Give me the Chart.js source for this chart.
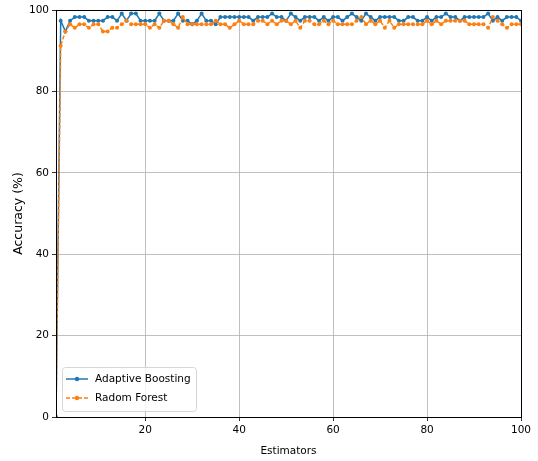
<!DOCTYPE html>
<html>
<head>
<meta charset="utf-8">
<script src="https://cdn.jsdelivr.net/npm/chart.js@4/dist/chart.umd.min.js"></script>
<style>
  html, body { margin: 0; padding: 0; background: #fff; }
  #wrap { position: relative; width: 538px; height: 461px; }
</style>
</head>
<body>
<div id="wrap"><canvas id="acc"></canvas></div>
<script>
// estimators 1..100
const estimators = Array.from({ length: 100 }, (_, i) => i + 1);

const adaBoost = [
  0, 97.37, 94.74, 97.37, 98.25, 98.25, 98.25, 97.37, 97.37, 97.37,
  97.37, 98.25, 98.25, 97.37, 99.12, 97.37, 99.12, 99.12, 97.37, 97.37,
  97.37, 97.37, 99.12, 97.37, 97.37, 97.37, 99.12, 97.37, 97.37, 96.49,
  97.37, 99.12, 97.37, 97.37, 96.49, 98.25, 98.25, 98.25, 98.25, 98.25,
  98.25, 98.25, 97.37, 98.25, 98.25, 98.25, 99.12, 98.25, 98.25, 97.37,
  99.12, 98.25, 97.37, 98.25, 98.25, 98.25, 97.37, 98.25, 97.37, 98.25,
  98.25, 97.37, 98.25, 99.12, 98.25, 97.37, 99.12, 98.25, 97.37, 98.25,
  98.25, 98.25, 98.25, 97.37, 97.37, 98.25, 98.25, 97.37, 97.37, 98.25,
  97.37, 98.25, 98.25, 99.12, 98.25, 98.25, 97.37, 98.25, 98.25, 98.25,
  98.25, 98.25, 99.12, 97.37, 98.25, 97.37, 98.25, 98.25, 98.25, 97.37
];

const randomForest = [
  0, 91.23, 94.74, 96.49, 95.61, 96.49, 96.49, 95.61, 96.49, 96.49,
  94.74, 94.74, 95.61, 95.61, 96.49, 97.37, 96.49, 96.49, 96.49, 96.49,
  95.61, 96.49, 95.61, 97.37, 97.37, 96.49, 95.61, 98.25, 96.49, 96.49,
  96.49, 96.49, 96.49, 96.49, 97.37, 96.49, 96.49, 95.61, 96.49, 97.37,
  96.49, 96.49, 96.49, 97.37, 97.37, 96.49, 97.37, 96.49, 97.37, 97.37,
  96.49, 97.37, 95.61, 97.37, 97.37, 96.49, 96.49, 97.37, 96.49, 97.37,
  96.49, 96.49, 96.49, 96.49, 97.37, 98.25, 96.49, 97.37, 96.49, 97.37,
  95.61, 97.37, 95.61, 96.49, 96.49, 96.49, 96.49, 96.49, 96.49, 97.37,
  96.49, 97.37, 96.49, 97.37, 97.37, 97.37, 97.37, 97.37, 96.49, 96.49,
  96.49, 96.49, 95.61, 98.25, 97.37, 96.49, 95.61, 96.49, 96.49, 96.49
];

const seriesNames = ["Adaptive Boosting", "Radom Forest"];
const xTicks = [20, 40, 60, 80, 100];
const yTicks = [0, 20, 40, 60, 80, 100];

const BLUE = "#1f77b4";
const ORANGE = "#ff7f0e";
const FONT = "'DejaVu Sans', sans-serif";

const toPoints = (vals) => vals.map((v, i) => ({ x: estimators[i], y: v }));

// black frame around the axes, like matplotlib spines
const spines = {
  id: "spines",
  afterDatasetsDraw(chart) {
    const { ctx, chartArea: a } = chart;
    ctx.save();
    ctx.strokeStyle = "#000";
    ctx.lineWidth = 1;
    ctx.strokeRect(Math.round(a.left) + 0.5, Math.round(a.top) + 0.5,
      Math.round(a.right - a.left), Math.round(a.bottom - a.top));
    ctx.restore();
  }
};

// legend box in the lower left corner
const cornerLegend = {
  id: "cornerLegend",
  afterDraw(chart) {
    const { ctx, chartArea: a } = chart;
    const x0 = a.left + 6, y0 = a.bottom - 50, w = 134, h = 44;
    ctx.save();
    ctx.beginPath();
    ctx.roundRect(x0 + 0.5, y0 + 0.5, w, h, 3);
    ctx.fillStyle = "rgba(255,255,255,0.8)";
    ctx.fill();
    ctx.strokeStyle = "#d6d6d6";
    ctx.lineWidth = 1;
    ctx.stroke();

    const items = [
      { label: seriesNames[0], color: BLUE, dash: [] },
      { label: seriesNames[1], color: ORANGE, dash: [4, 2] }
    ];
    items.forEach((it, i) => {
      const y = y0 + 12 + i * 19;
      ctx.strokeStyle = it.color;
      ctx.lineWidth = 1.5;
      ctx.setLineDash(it.dash);
      ctx.beginPath();
      ctx.moveTo(x0 + 4, y);
      ctx.lineTo(x0 + 26, y);
      ctx.stroke();
      ctx.setLineDash([]);
      ctx.fillStyle = it.color;
      ctx.beginPath();
      ctx.arc(x0 + 15, y, 2.2, 0, Math.PI * 2);
      ctx.fill();
      ctx.fillStyle = "#000";
      ctx.font = "10.5px " + FONT;
      ctx.textBaseline = "middle";
      ctx.fillText(it.label, x0 + 33, y);
    });
    ctx.restore();
  }
};

new Chart(document.getElementById("acc"), {
  type: "line",
  data: {
    datasets: [
      {
        label: seriesNames[0],
        data: toPoints(adaBoost),
        borderColor: BLUE,
        backgroundColor: BLUE,
        borderWidth: 1.5,
        pointRadius: 2,
        pointBorderWidth: 0,
        pointBackgroundColor: BLUE,
        tension: 0,
        order: 1
      },
      {
        label: seriesNames[1],
        data: toPoints(randomForest),
        borderColor: ORANGE,
        backgroundColor: ORANGE,
        borderWidth: 1.5,
        borderDash: [4, 2],
        pointRadius: 2,
        pointBorderWidth: 0,
        pointBackgroundColor: ORANGE,
        tension: 0,
        order: 0
      }
    ]
  },
  options: {
    responsive: true,
    maintainAspectRatio: false,
    animation: false,
    layout: { padding: { left: 0, top: 10, right: 17, bottom: 0 } },
    plugins: {
      legend: { display: false },
      tooltip: { enabled: false }
    },
    scales: {
      x: {
        type: "linear",
        min: 1,
        max: 100,
        afterBuildTicks(scale) {
          scale.ticks = xTicks.map((v) => ({ value: v }));
        },
        afterFit(scale) { scale.height = 44; },
        border: { display: false },
        grid: { color: "#b0b0b0", lineWidth: 0.8, tickColor: "#000", tickLength: 4 },
        ticks: { color: "#000", font: { family: FONT, size: 10.5 }, padding: 3, maxRotation: 0 },
        title: {
          display: true,
          text: "Estimators",
          color: "#000",
          font: { family: FONT, size: 10.5 },
          padding: { top: 0, bottom: 3 }
        }
      },
      y: {
        min: 0,
        max: 100,
        afterBuildTicks(scale) {
          scale.ticks = yTicks.map((v) => ({ value: v }));
        },
        afterFit(scale) { scale.width = 56; },
        border: { display: false },
        grid: { color: "#b0b0b0", lineWidth: 0.8, tickColor: "#000", tickLength: 4 },
        ticks: { color: "#000", font: { family: FONT, size: 10.5 }, padding: 3 },
        title: {
          display: true,
          text: "Accuracy (%)",
          color: "#000",
          font: { family: FONT, size: 12.5 },
          padding: { top: 11, bottom: 0 }
        }
      }
    }
  },
  plugins: [spines, cornerLegend]
});
</script>
</body>
</html>
